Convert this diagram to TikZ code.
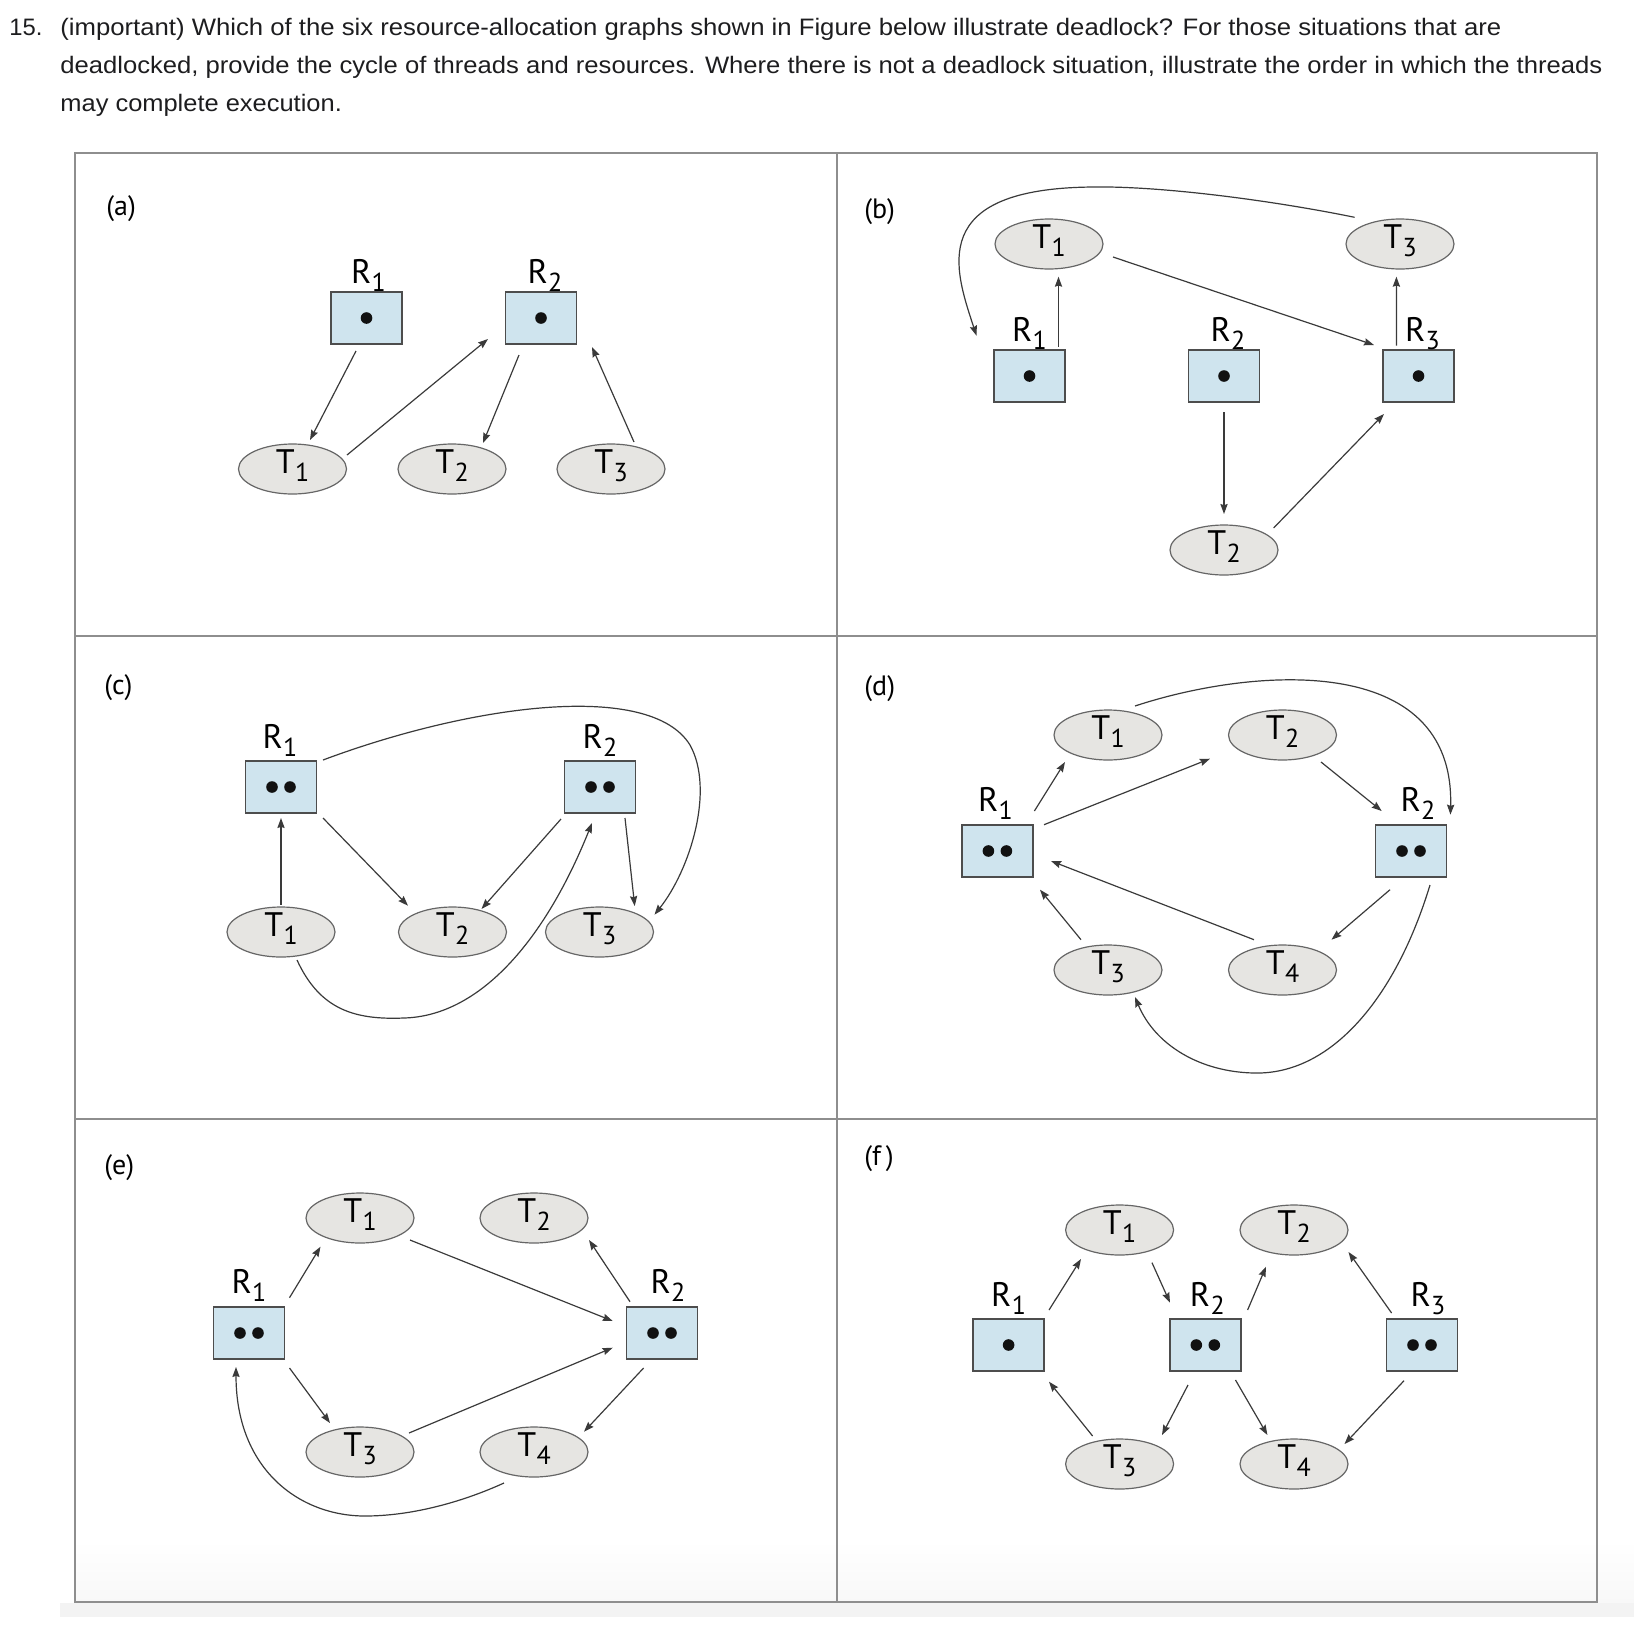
\documentclass[tikz,border=0pt]{standalone}
\usepackage{fontspec}
\setmainfont{Liberation Sans}
\newfontfamily\labfont{PT Sans}
\usetikzlibrary{arrows.meta,shapes.geometric,calc}
\definecolor{boxfill}{HTML}{CFE4EE}
\definecolor{ellfill}{HTML}{E6E5E2}
\definecolor{framec}{HTML}{8E8E8E}
\definecolor{arrc}{HTML}{3A3A3A}
\definecolor{boxdraw}{HTML}{4D4D4D}
\definecolor{elldraw}{HTML}{666666}
\definecolor{txt}{HTML}{1D1D1F}
\definecolor{bandc}{HTML}{F3F3F3}
\definecolor{fadec}{HTML}{F8F8F8}
\definecolor{dotc}{HTML}{111111}
\newcommand\qfont{\fontsize{11.9pt}{14pt}\selectfont}
\newlength\qlen
\newcommand\fitline[2]{\settowidth\qlen{\qfont #2}\pgfmathsetmacro\qsc{#1/\qlen}\scalebox{\qsc}[1]{\qfont #2}}
\newcommand\Tn[1]{\smash{\raisebox{-2pt}{T\kern0.01em\raisebox{-0.24em}{\fontsize{13pt}{13pt}\selectfont #1}}}}
\newcommand\Rn[1]{R\kern0.01em\raisebox{-0.24em}{\fontsize{13pt}{13pt}\selectfont #1}}
\begin{document}
\begin{tikzpicture}[x=0.5pt,y=-0.5pt,
  thr/.style={ellipse, draw=elldraw, fill=ellfill, line width=0.6pt,
    minimum width=54pt, minimum height=25pt, inner sep=0pt,
    font=\labfont\fontsize{17pt}{17pt}\selectfont},
  res/.style={rectangle, draw=boxdraw, fill=boxfill, line width=0.8pt,
    minimum width=35.5pt, minimum height=26pt, inner sep=0pt},
  one/.style={res, path picture={\fill[dotc] (path picture bounding box.center) circle (2.9pt);}},
  two/.style={res, path picture={
    \fill[dotc] ([xshift=-4.5pt]path picture bounding box.center) circle (2.9pt);
    \fill[dotc] ([xshift=4.5pt]path picture bounding box.center) circle (2.9pt);}},
  rlab/.style={anchor=base, inner sep=0pt, font=\labfont\fontsize{17pt}{17pt}\selectfont},
  panlab/.style={anchor=west, inner sep=0pt, font=\labfont\fontsize{14pt}{14pt}\selectfont},
  arr/.style={draw=arrc, line width=0.6pt, -{Stealth[length=5pt,width=3.6pt,inset=0.6pt]}},
  qtext/.style={anchor=base west, inner sep=0pt, text=txt},
  framel/.style={draw=framec, line width=0.8pt}]
\useasboundingbox (0,0) rectangle (1634,1628);
% ---------- question text ----------
\node[qtext] (qnum) at (9,35) {\qfont 15.};
\node[qtext] (q1) at (60,35) {\fitline{720.5}{(important) Which of the six resource-allocation graphs shown in Figure below illustrate deadlock? For those situations that are}};
\node[qtext] (q2) at (60,73) {\fitline{771}{deadlocked, provide the cycle of threads and resources. Where there is not a deadlock situation, illustrate the order in which the threads}};
\node[qtext] (q3) at (60,111) {\fitline{140.75}{may complete execution.}};
% ---------- background fade and band ----------
\shade[top color=white, bottom color=fadec] (76,1540) rectangle (1634,1603);
\fill[bandc] (60,1603) rectangle (1634,1617);
% ---------- frame ----------
\draw[framel] (75,153) rectangle (1597,1602);
\draw[framel] (837,153) -- (837,1602);
\draw[framel] (75,636) -- (1597,636);
\draw[framel] (75,1119) -- (1597,1119);
% ---------- panel labels ----------
\node[panlab] (la) at (106,209) {(a)};
\node[panlab] (lb) at (864,212) {(b)};
\node[panlab] (lc) at (104,688) {(c)};
\node[panlab] (ld) at (864,689) {(d)};
\node[panlab] (le) at (104,1168) {(e)};
\node[panlab] (lf) at (864,1159) {(f\,)};
% ================= (a) =================
\node[one] (aR1) at (366.5,318) {};
\node[one] (aR2) at (541,318) {};
\node[rlab] (aR1l) at ($(aR1)+(2,-35)$) {\Rn{1}};
\node[rlab] (aR2l) at ($(aR2)+(4,-35)$) {\Rn{2}};
\node[thr] (aT1) at (292.5,469) {\Tn{1}};
\node[thr] (aT2) at (452,469) {\Tn{2}};
\node[thr] (aT3) at (611,469) {\Tn{3}};
\draw[arr] ($(aR1)+(-10.5,33)$) -- ($(aT1)+(17.5,-29)$);
\draw[arr] ($(aT1)+(54.5,-14)$) -- ($(aR2)+(-53,21)$);
\draw[arr] ($(aR2)+(-22,37)$) -- ($(aT2)+(31,-26)$);
\draw[arr] ($(aT3)+(23,-27)$) -- ($(aR2)+(51,29)$);
% ================= (b) =================
\node[thr] (bT1) at (1049,244) {\Tn{1}};
\node[thr] (bT3) at (1400,244) {\Tn{3}};
\node[one] (bR1) at (1029.5,376) {};
\node[one] (bR2) at (1224,376) {};
\node[one] (bR3) at (1418.5,376) {};
\node[rlab] (bR1l) at ($(bR1)+(0,-35)$) {\Rn{1}};
\node[rlab] (bR2l) at ($(bR2)+(4,-35)$) {\Rn{2}};
\node[rlab] (bR3l) at ($(bR3)+(4,-35)$) {\Rn{3}};
\node[thr] (bT2) at (1224,550) {\Tn{2}};
\draw[arr] ($(bR1)+(29,-29.3)$) -- ($(bT1)+(9.5,32.7)$);
\draw[arr] ($(bT1)+(64,13)$) -- ($(bR3)+(-44.5,-31)$);
\draw[arr] ($(bR3)+(-22,-30.3)$) -- ($(bT3)+(-3.6,32.7)$);
\draw[arr] ($(bT3)+(-45.4,-26.7)$) .. controls (1270,200) and (1160,186) .. (1094,187)
  .. controls (925,188) and (955,270) .. ($(bR1)+(-53,-40.3)$);
\draw[arr] ($(bR2)+(0,36)$) -- ($(bT2)+(0,-36)$);
\draw[arr] ($(bT2)+(49.6,-22)$) -- ($(bR3)+(-34.5,38)$);
% ================= (c) =================
\node[two] (cR1) at (281,787) {};
\node[two] (cR2) at (600,787) {};
\node[rlab] (cR1l) at ($(cR1)+(-1,-39)$) {\Rn{1}};
\node[rlab] (cR2l) at ($(cR2)+(0,-39)$) {\Rn{2}};
\node[thr] (cT1) at (281,932) {\Tn{1}};
\node[thr] (cT2) at (452.5,932) {\Tn{2}};
\node[thr] (cT3) at (599.5,932) {\Tn{3}};
\draw[arr] ($(cT1)+(0,-27.3)$) -- ($(cR1)+(0,31)$);
\draw[arr] ($(cR1)+(42,31)$) -- ($(cT2)+(-44.5,-26.3)$);
\draw[arr] ($(cR2)+(-39,32)$) -- ($(cT2)+(29,-23)$);
\draw[arr] ($(cR2)+(25,31)$) -- ($(cT3)+(35.2,-26)$);
\draw[arr] ($(cR1)+(42,-27)$) .. controls (470,705) and (650,680) .. (690,745)
  .. controls (715,790) and (690,870) .. ($(cT3)+(55,-17.3)$);
\draw[arr] ($(cT1)+(16,28)$) .. controls (320,1010) and (355,1020) .. (404,1018)
  .. controls (480,1016) and (545,940) .. ($(cR2)+(-8,36)$);
% ================= (d) =================
\node[thr] (dT1) at (1108,735) {\Tn{1}};
\node[thr] (dT2) at (1282.5,735) {\Tn{2}};
\node[thr] (dT3) at (1108,970) {\Tn{3}};
\node[thr] (dT4) at (1282.5,970) {\Tn{4}};
\node[two] (dR1) at (997.4,851) {};
\node[two] (dR2) at (1411,851) {};
\node[rlab] (dR1l) at ($(dR1)+(-2,-40)$) {\Rn{1}};
\node[rlab] (dR2l) at ($(dR2)+(7,-40)$) {\Rn{2}};
\draw[arr] ($(dR1)+(37,-40)$) -- ($(dT1)+(-43,27)$);
\draw[arr] ($(dR1)+(46.6,-26.3)$) -- ($(dT2)+(-72.5,23.7)$);
\draw[arr] ($(dT2)+(38.5,27)$) -- ($(dR2)+(-29.3,-40)$);
\draw[arr] ($(dT1)+(27,-29)$) .. controls (1250,668) and (1455,650) .. ($(dR2)+(39.4,-36.3)$);
\draw[arr] ($(dR2)+(-21,38.7)$) -- ($(dT4)+(49,-30.3)$);
\draw[arr] ($(dT4)+(-28.5,-30.3)$) -- ($(dR1)+(53.6,10)$);
\draw[arr] ($(dT3)+(-27,-30.3)$) -- ($(dR1)+(42.6,38.7)$);
\draw[arr] ($(dR2)+(19,34)$) .. controls (1395,1000) and (1330,1075) .. (1254,1073)
  .. controls (1200,1072) and (1155,1045) .. ($(dT3)+(27,27)$);
% ================= (e) =================
\node[thr] (eT1) at (360,1218) {\Tn{1}};
\node[thr] (eT2) at (534,1218) {\Tn{2}};
\node[thr] (eT3) at (360,1452) {\Tn{3}};
\node[thr] (eT4) at (534,1452) {\Tn{4}};
\node[two] (eR1) at (249,1333) {};
\node[two] (eR2) at (662,1333) {};
\node[rlab] (eR1l) at ($(eR1)+(0,-40)$) {\Rn{1}};
\node[rlab] (eR2l) at ($(eR2)+(6,-40)$) {\Rn{2}};
\draw[arr] ($(eR1)+(40.5,-35.3)$) -- ($(eT1)+(-39.5,28.7)$);
\draw[arr] ($(eT1)+(50,22)$) -- ($(eR2)+(-49.3,-12)$);
\draw[arr] ($(eR2)+(-32,-31.3)$) -- ($(eT2)+(55,22)$);
\draw[arr] ($(eR1)+(40.5,35)$) -- ($(eT3)+(-30,-29)$);
\draw[arr] ($(eT3)+(49,-19)$) -- ($(eR2)+(-49.3,14.7)$);
\draw[arr] ($(eR2)+(-18.4,35)$) -- ($(eT4)+(50,-20.3)$);
\draw[arr] ($(eT4)+(-30,31)$) .. controls (460,1503) and (410,1516) .. (365,1516)
  .. controls (300,1516) and (236,1470) .. ($(eR1)+(-13,34)$);
% ================= (f) =================
\node[thr] (fT1) at (1119.6,1230) {\Tn{1}};
\node[thr] (fT2) at (1294,1230) {\Tn{2}};
\node[thr] (fT3) at (1119.6,1464) {\Tn{3}};
\node[thr] (fT4) at (1294,1464) {\Tn{4}};
\node[one] (fR1) at (1008.6,1345) {};
\node[two] (fR2) at (1205.3,1345) {};
\node[two] (fR3) at (1422,1345) {};
\node[rlab] (fR1l) at ($(fR1)+(0,-39)$) {\Rn{1}};
\node[rlab] (fR2l) at ($(fR2)+(2,-39)$) {\Rn{2}};
\node[rlab] (fR3l) at ($(fR3)+(6,-39)$) {\Rn{3}};
\draw[arr] ($(fR1)+(40.4,-35)$) -- ($(fT1)+(-38.6,29)$);
\draw[arr] ($(fT1)+(32.4,32.7)$) -- ($(fR2)+(-35.3,-42.3)$);
\draw[arr] ($(fR2)+(42.3,-35)$) -- ($(fT2)+(-28,36.7)$);
\draw[arr] ($(fR3)+(-30.4,-32)$) -- ($(fT2)+(54.5,22)$);
\draw[arr] ($(fT3)+(-27,-28)$) -- ($(fR1)+(40.4,36.7)$);
\draw[arr] ($(fR2)+(-17.3,40)$) -- ($(fT3)+(42.4,-29)$);
\draw[arr] ($(fR2)+(30.2,35)$) -- ($(fT4)+(-26.6,-29)$);
\draw[arr] ($(fR3)+(-18,35.7)$) -- ($(fT4)+(50.5,-20)$);
\end{tikzpicture}
\end{document}
